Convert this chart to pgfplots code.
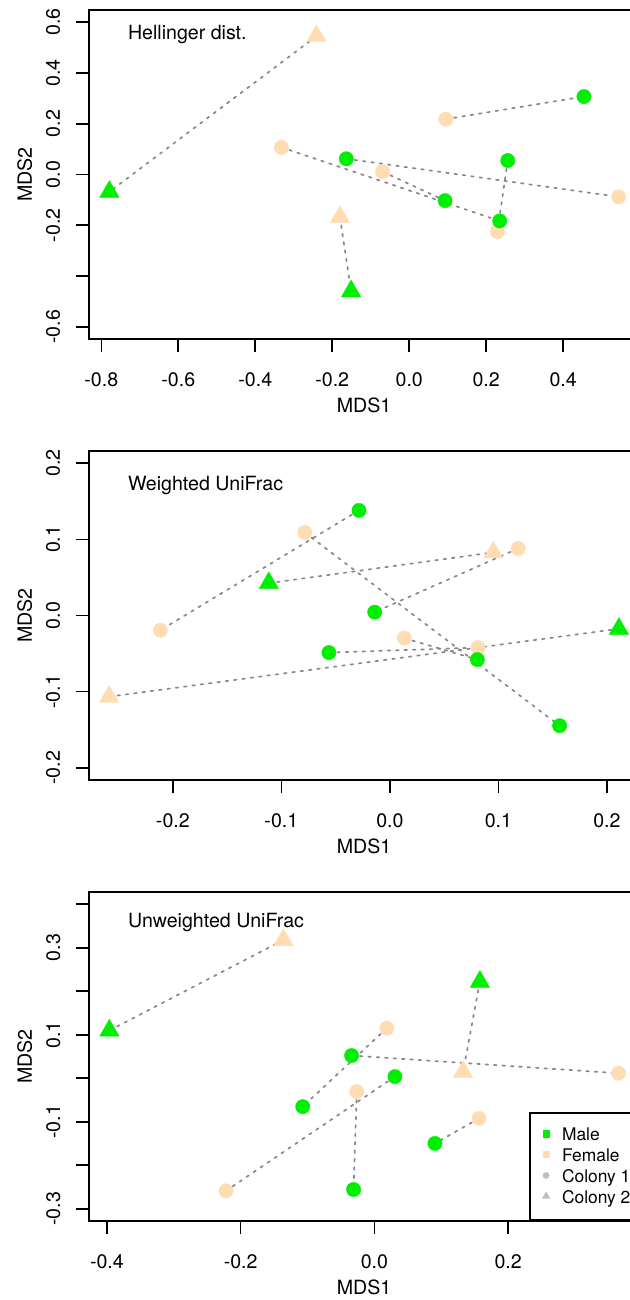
\documentclass[border=0pt]{standalone}
\usepackage{fontspec}
\setmainfont{TeX Gyre Heros}
\usepackage{pgfplots}
\pgfplotsset{compat=1.18}

\definecolor{mgreen}{HTML}{00EE00}
\definecolor{ftan}{HTML}{FFDCB1}
\definecolor{lgrey}{HTML}{BEBEBE}
\definecolor{pairgrey}{HTML}{888888}

\pgfplotsset{
  mdsaxis/.style={
    scale only axis, width=275pt, height=164.5pt,
    anchor=south west,
    axis line style={line width=0.8pt},
    tick style={line width=0.8pt, black},
    tick align=outside, major tick length=6.5pt,
    tick pos=left,
    font=\fontsize{9.8}{11.8}\selectfont,
    tick label style={font=\fontsize{9.8}{11.8}\selectfont},
    % pgfplots already adds the outside tick length to these shifts
    xticklabel style={anchor=base, yshift=-17.35pt},
    yticklabel style={xshift=-8pt, rotate=90, anchor=base},
    xlabel={MDS1}, ylabel={MDS2},
    xlabel style={at={(axis description cs:0.5,-0.2249)}, anchor=base},
    ylabel style={at={(axis description cs:-0.10364,0.5)}, anchor=base},
  },
  femc/.style={only marks, mark=*, mark size=3.57pt, mark options={line width=0.2pt}, color=ftan, forget plot},
  femt/.style={only marks, mark=triangle*, mark size=5.6pt, mark options={line width=0.2pt}, color=ftan, forget plot},
  malc/.style={only marks, mark=*, mark size=3.57pt, mark options={line width=0.2pt}, color=mgreen, forget plot},
  malt/.style={only marks, mark=triangle*, mark size=5.6pt, mark options={line width=0.2pt}, color=mgreen, forget plot},
  pair/.style={no markers, color=pairgrey, line width=0.85pt, line cap=round, dash pattern=on 1.3pt off 2.9pt, forget plot},
}
\tikzset{paneltitle/.style={anchor=base west, inner sep=0pt, font=\fontsize{9.8}{11.8}\selectfont}}

\begin{document}
\begin{tikzpicture}
% ---------------- Hellinger ----------------
\begin{axis}[mdsaxis, name=p1, at={(44.5pt,480.5pt)},
  xmin=-0.832, xmax=0.597, ymin=-0.648, ymax=0.648,
  xtick={-0.8,-0.6,-0.4,-0.2,0,0.2,0.4},
  xticklabels={-0.8,-0.6,-0.4,-0.2,0.0,0.2,0.4},
  ytick={-0.6,-0.4,-0.2,0,0.2,0.4,0.6},
  yticklabels={-0.6,,-0.2,0.0,0.2,0.4,0.6}]
\addplot[femc] coordinates {(0.095,0.218) (-0.332,0.107) (-0.069,0.011) (0.544,-0.088) (0.229,-0.225)};
\addplot[femt] coordinates {(-0.241,0.545) (-0.180,-0.168)};
\addplot[malc] coordinates {(0.454,0.307) (-0.1635,0.062) (0.256,0.055) (0.093,-0.103) (0.235,-0.183)};
\addplot[malt] coordinates {(-0.779,-0.068) (-0.151,-0.460)};
\addplot[pair] coordinates {(-0.241,0.545) (-0.779,-0.068)};
\addplot[pair] coordinates {(-0.180,-0.168) (-0.151,-0.460)};
\addplot[pair] coordinates {(0.095,0.218) (0.454,0.307)};
\addplot[pair] coordinates {(-0.1635,0.062) (0.544,-0.088)};
\addplot[pair] coordinates {(0.256,0.055) (0.229,-0.225)};
\addplot[pair] coordinates {(-0.332,0.107) (0.235,-0.183)};
\addplot[pair] coordinates {(-0.069,0.011) (0.093,-0.103)};
\end{axis}
\node[paneltitle] at ([xshift=19.3pt,yshift=-15pt]p1.north west) {Hellinger dist.};

% ---------------- Weighted UniFrac ----------------
\begin{axis}[mdsaxis, name=p2, at={(44.5pt,260pt)},
  xmin=-0.2773, xmax=0.2296, ymin=-0.216, ymax=0.216,
  xtick={-0.2,-0.1,0,0.1,0.2},
  xticklabels={-0.2,-0.1,0.0,0.1,0.2},
  ytick={-0.2,-0.1,0,0.1,0.2},
  yticklabels={-0.2,-0.1,0.0,0.1,0.2}]
\addplot[femc] coordinates {(-0.0784,0.109) (0.1183,0.088) (-0.2115,-0.0193) (0.0133,-0.0298) (0.0813,-0.0421)};
\addplot[femt] coordinates {(0.0954,0.0829) (-0.2588,-0.1066)};
\addplot[malc] coordinates {(-0.0285,0.138) (-0.014,0.0044) (-0.0562,-0.0487) (0.0806,-0.0579) (0.1564,-0.1447)};
\addplot[malt] coordinates {(-0.1116,0.0425) (0.2111,-0.0175)};
\addplot[pair] coordinates {(-0.0285,0.138) (-0.2115,-0.0193)};
\addplot[pair] coordinates {(-0.0784,0.109) (0.1564,-0.1447)};
\addplot[pair] coordinates {(-0.1116,0.0425) (0.0954,0.0829)};
\addplot[pair] coordinates {(0.1183,0.088) (-0.014,0.0044)};
\addplot[pair] coordinates {(0.0133,-0.0298) (0.0806,-0.0579)};
\addplot[pair] coordinates {(-0.0562,-0.0487) (0.0813,-0.0421)};
\addplot[pair] coordinates {(-0.2588,-0.1066) (0.2111,-0.0175)};
\end{axis}
\node[paneltitle] at ([xshift=19.3pt,yshift=-19.9pt]p2.north west) {Weighted UniFrac};

% ---------------- Unweighted UniFrac ----------------
\begin{axis}[mdsaxis, name=p3, at={(44.5pt,39.5pt)},
  xmin=-0.4268, xmax=0.3956, ymin=-0.328, ymax=0.428,
  xtick={-0.4,-0.2,0,0.2},
  xticklabels={-0.4,-0.2,0.0,0.2},
  ytick={-0.3,-0.2,-0.1,0,0.1,0.2,0.3,0.4},
  yticklabels={-0.3,,-0.1,,0.1,,0.3,},
  legend image code/.code={\draw[#1] plot coordinates {(0pt,3.6pt)};},
  legend style={at={(rel axis cs:0.8009,0)}, anchor=south west,
    draw=black, line width=0.8pt, fill=white,
    inner xsep=6pt, inner ysep=4.92pt, column sep=6.05pt, row sep=-1.93pt,
    font=\fontsize{8.7}{10.4}\selectfont,
    nodes={inner sep=0pt, text height=8.93pt, text depth=3.43pt},
    cells={anchor=base west}}]
\addplot[femc] coordinates {(0.0186,0.1151) (0.3651,0.0115) (-0.0264,-0.0307) (0.1565,-0.0921) (-0.2218,-0.2586)};
\addplot[femt] coordinates {(-0.1361,0.3177) (0.1325,0.0146)};
\addplot[malc] coordinates {(-0.0342,0.0522) (0.0306,0.0038) (-0.1073,-0.0652) (0.0905,-0.1497) (-0.0312,-0.2556)};
\addplot[malt] coordinates {(-0.3963,0.1097) (0.1577,0.2218)};
\addplot[pair] coordinates {(-0.1361,0.3177) (-0.3963,0.1097)};
\addplot[pair] coordinates {(0.1577,0.2218) (0.1325,0.0146)};
\addplot[pair] coordinates {(0.0186,0.1151) (-0.1073,-0.0652)};
\addplot[pair] coordinates {(-0.0342,0.0522) (0.3651,0.0115)};
\addplot[pair] coordinates {(0.0306,0.0038) (-0.2218,-0.2586)};
\addplot[pair] coordinates {(-0.0264,-0.0307) (-0.0312,-0.2556)};
\addplot[pair] coordinates {(0.1565,-0.0921) (0.0905,-0.1497)};
\addlegendimage{only marks, mark=square*, mark size=1.55pt, mark options={line width=0.2pt}, color=mgreen}
\addlegendentry{Male}
\addlegendimage{only marks, mark=square*, mark size=1.55pt, mark options={line width=0.2pt}, color=ftan}
\addlegendentry{Female}
\addlegendimage{only marks, mark=*, mark size=1.55pt, mark options={line width=0.2pt}, color=lgrey}
\addlegendentry{Colony 1}
\addlegendimage{only marks, mark=triangle*, mark size=2.2pt, mark options={line width=0.2pt}, color=lgrey}
\addlegendentry{Colony 2}
\end{axis}
\node[paneltitle] at ([xshift=19.3pt,yshift=-17.7pt]p3.north west) {Unweighted UniFrac};

\pgfresetboundingbox
\path[use as bounding box] (0pt,0pt) rectangle (314.5pt,650pt);
\end{tikzpicture}
\end{document}
